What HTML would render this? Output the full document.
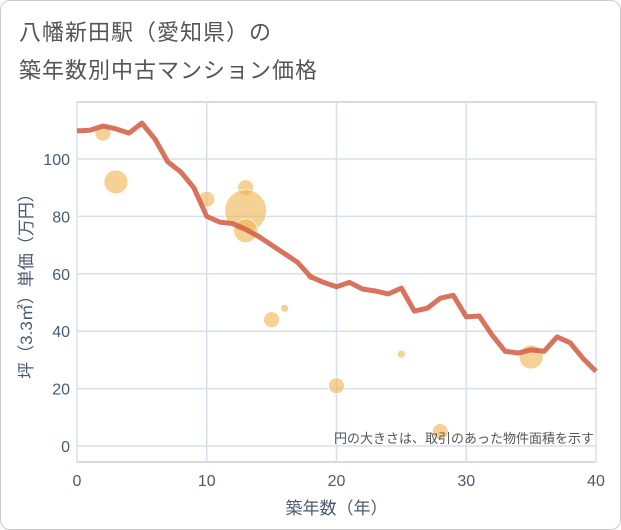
<!DOCTYPE html>
<html><head><meta charset="utf-8"><style>
body{margin:0;background:#fff;font-family:"Liberation Sans","Noto Sans CJK JP",sans-serif;}
#wrap{position:relative;width:619px;height:528px;border:1px solid #ccc;border-radius:10px;overflow:hidden;}
.title{position:absolute;left:18px;font-size:22px;color:#555;letter-spacing:1px;}
</style></head><body>
<div id="wrap">
<div class="title" style="top:14px">八幡新田駅（愛知県）の</div>
<div class="title" style="top:52px">築年数別中古マンション価格</div>
<svg id="chart" width="621" height="530" style="position:absolute;left:-1px;top:-1px"></svg>
</div>
<script>
const years=[0,1,2,3,4,5,6,7,8,9,10,11,12,13,14,15,16,17,18,19,20,21,22,23,24,25,26,27,28,29,30,31,32,33,34,35,36,37,38,39,40];
const avgPrice=[109.8,110,111.5,110.5,109,112.5,107,99,95.5,90,80,78,77.5,75.5,73,70,67,64,59,57,55.5,57,54.7,54,53,55,47,48,51.5,52.5,45,45.3,38.6,33,32.4,33.5,33,38,36,30.5,26];
const bubbleAge=[2,3,10,13,13,13,18,15,16,20,25,28,35];
const bubblePrice=[109,92,86,90,82,75,59,44,48,21,32,5,31];
const bubbleArea=[64,144,64,64,441,144,16,64,16,64,16,64,144];
const xTicks=[0,10,20,30,40];
const yTicks=[0,20,40,60,80,100];
const NS="http://www.w3.org/2000/svg";
const svg=document.getElementById('chart');
const L=77,R=596,T=102,B=462;
const xs=v=>L+(R-L)*v/40;
const ys=v=>446-v*2.87;
function mk(t,a){const e=document.createElementNS(NS,t);for(const k in a)e.setAttribute(k,a[k]);svg.appendChild(e);return e;}
const frame=mk('rect',{x:L,y:T,width:R-L,height:B-T,fill:'none',stroke:'#b0b8c4'});


xTicks.forEach(t=>{
 const g=mk('line',{x1:xs(t),x2:xs(t),y1:T,y2:B,stroke:'#d5e0ec','stroke-width':1.5});
 
 
 const l=mk('text',{x:xs(t),y:486,'text-anchor':'middle','font-size':16,fill:'#4a5a70'});
 l.textContent=t;
 
 
});
yTicks.forEach(t=>{
 const g=mk('line',{x1:L,x2:R,y1:ys(t),y2:ys(t),stroke:'#d5e0ec','stroke-width':1.5});
 
 
 const l=mk('text',{x:70,y:ys(t)+6,'text-anchor':'end','font-size':16,fill:'#4a5a70'});
 l.textContent=t;
 
 
});
bubbleAge.forEach((a,i)=>{
 const c=mk('circle',{cx:xs(a),cy:ys(bubblePrice[i]),r:Math.sqrt(bubbleArea[i]),fill:'#f0b34f','fill-opacity':0.6,stroke:'#fff','stroke-width':0.8});
 
 
});
const p=mk('polyline',{points:years.map((y,i)=>xs(y)+','+ys(avgPrice[i])).join(' '),fill:'none',stroke:'#d4644c','stroke-opacity':0.9,'stroke-width':5,'stroke-linejoin':'round'});


const note=mk('text',{x:594,y:443,'text-anchor':'end','font-size':13,fill:'#555'});
note.textContent='円の大きさは、取引のあった物件面積を示す';


const xt=mk('text',{x:(L+R)/2,y:514,'text-anchor':'middle','font-size':17,fill:'#4a5a70'});
xt.textContent='築年数（年）';


const yt=mk('text',{x:0,y:0,'text-anchor':'middle','font-size':17,fill:'#4a5a70',transform:'translate(32,282) rotate(-90)'});
yt.textContent='坪（3.3㎡）単価（万円）';


</script>
</body></html>
